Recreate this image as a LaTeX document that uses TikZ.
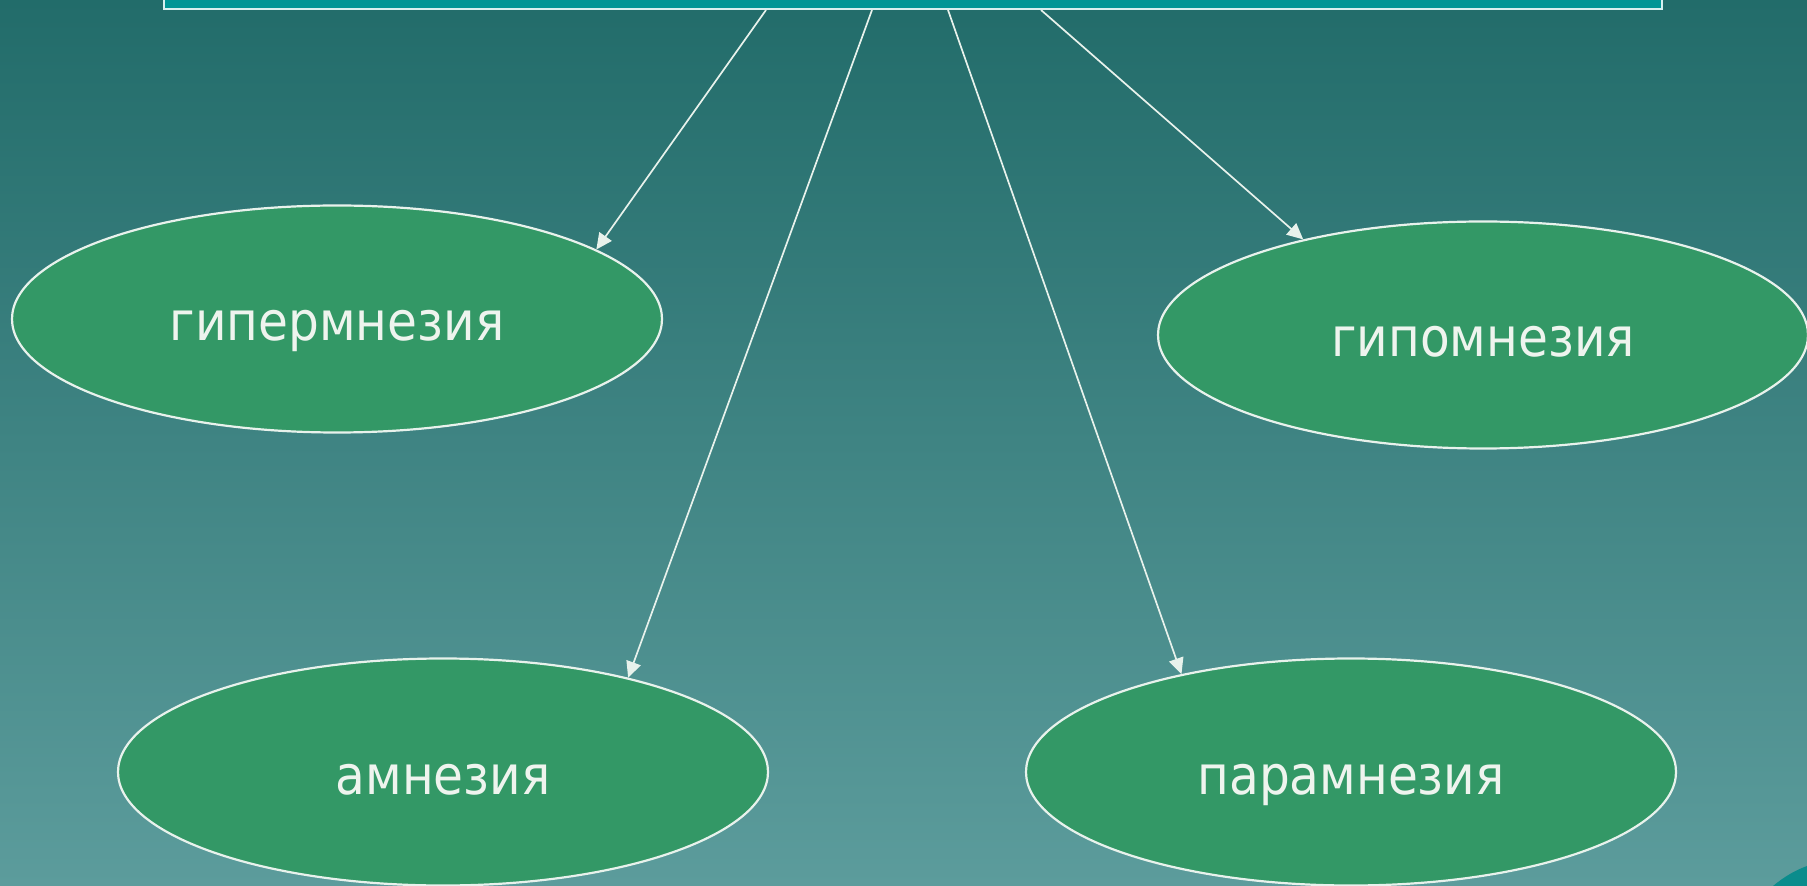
\documentclass[tikz,border=0pt]{standalone}
\usepackage{fontspec}
\newfontfamily\lblfont{DejaVu Sans}[FakeStretch=0.9]
\usetikzlibrary{shapes.geometric,arrows.meta}
\definecolor{bgtop}{RGB}{34,108,106}
\definecolor{bgbot}{RGB}{92,156,156}
\definecolor{boxfill}{RGB}{0,150,150}
\definecolor{boxedge}{RGB}{215,240,240}
\definecolor{ellfill}{RGB}{51,152,102}
\definecolor{edge}{RGB}{232,242,236}
\definecolor{txt}{RGB}{238,244,238}
\definecolor{corner}{RGB}{10,140,140}
\begin{document}
\begin{tikzpicture}[x=0.5pt,y=-0.5pt,
  topbox/.style={rectangle, draw=boxedge, line width=1.2pt, fill=boxfill, inner sep=0pt, minimum width=749pt, minimum height=30pt},
  blob/.style={ellipse, draw=edge, line width=1.1pt, fill=ellfill, inner sep=0pt,
    minimum width=325pt, minimum height=113.5pt, text=txt,
    font=\lblfont\fontsize{27}{33}\selectfont, text height=22pt, text depth=0pt},
  link/.style={draw=edge, line width=0.85pt, -{Triangle[length=8pt,width=7.5pt]}}]
\useasboundingbox (0,0) rectangle (1807,886);
\clip (0,0) rectangle (1807,886);
\shade[top color=bgtop, bottom color=bgbot] (0,0) rectangle (1807,886);
\fill[corner] (1773,886) .. controls (1785,876) and (1796,870) .. (1807,866) -- (1807,886) -- cycle;

\node[topbox, anchor=south west] (box) at (163,10) {};
\node[blob] (hyper) at (337,319) {гипермнезия};
\node[blob] (hypo) at (1483,335) {гипомнезия};
\node[blob] (amn) at (443,772) {амнезия};
\node[blob] (para) at (1351,772) {парамнезия};

\path (box.south west) ++(603,0) coordinate (s1) ++(106,0) coordinate (s2)
      ++(76,0) coordinate (s3) ++(93,0) coordinate (s4);

\draw[link] (s1) -- (hyper.15.8);
\draw[link] (s2) -- (amn.27.6);
\draw[link] (s3) -- (para.150.4);
\draw[link] (s4) -- (hypo.152.6);
\end{tikzpicture}
\end{document}
